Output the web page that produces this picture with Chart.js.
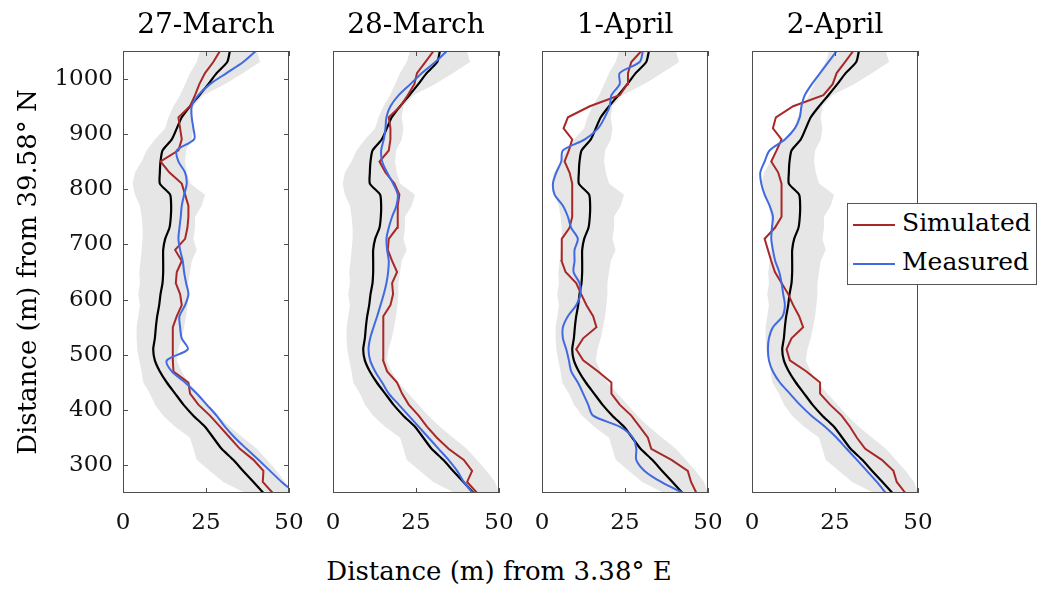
<!DOCTYPE html>
<html>
<head>
<meta charset="utf-8">
<script src="https://cdn.jsdelivr.net/npm/chart.js@4.4.1/dist/chart.umd.min.js"></script>
<style>
  body { margin: 0; background: #fff; font-family: "DejaVu Serif", serif; }
  #wrap { position: relative; width: 1040px; height: 592px; overflow: hidden; }
  canvas { position: absolute; top: 0; }
  #xlabel { position: absolute; left: 0; top: 556px; width: 998px; text-align: center;
            font-size: 26px; line-height: 30px; color: #000; }
  #legend { position: absolute; left: 847px; top: 203px; width: 188px; height: 80px;
            border: 1px solid #555; background: #fff; }
  #legend .sw { position: absolute; left: 5px; width: 42px; height: 2px; }
  #legend .txt { position: absolute; left: 54px; font-size: 25px; line-height: 30px; color: #000; }
</style>
</head>
<body>
<div id="wrap">
  <canvas id="p1" width="310" height="540" style="left:0px"></canvas>
  <canvas id="p2" width="206" height="540" style="left:313px"></canvas>
  <canvas id="p3" width="206" height="540" style="left:522px"></canvas>
  <canvas id="p4" width="206" height="540" style="left:732px"></canvas>
  <div id="xlabel">Distance (m) from 3.38° E</div>
  <div id="legend">
    <div class="sw" style="top:20px;background:#a82828"></div>
    <div class="txt" style="top:4px">Simulated</div>
    <div class="sw" style="top:59px;background:#4169e1"></div>
    <div class="txt" style="top:43px">Measured</div>
  </div>
</div>
<script>
// northing levels, listed from north (top) to south (bottom)
const northing = [1050, 1030, 1010, 990, 970, 950, 930, 910, 890, 870,
                  850, 830, 810, 790, 770, 750, 730, 710, 690, 670,
                  650, 630, 610, 590, 570, 550, 530, 510, 490, 470,
                  450, 430, 410, 390, 370, 350, 330, 310, 290, 270, 250];

const panelTitles = ['27-March', '28-March', '1-April', '2-April'];
const xTicks = [0, 25, 50];
const yTicks = [300, 400, 500, 600, 700, 800, 900, 1000];

// ensemble (black line) and spread (grey band), same in every panel
const meanX = [32.2, 31.4, 28.2, 25.7, 23.0, 20.2, 17.7, 16.2, 14.7, 11.9,
               11.3, 11.1, 11.1, 14.2, 14.5, 14.4, 14.0, 12.7, 12.1, 12.1,
               12.1, 11.9, 11.3, 10.9, 10.3, 9.9, 9.6, 9.1, 9.6, 11.1,
               13.2, 15.7, 18.2, 21.2, 24.7, 27.2, 29.7, 33.2, 36.2, 39.3, 42.3];
const bandLo = [23.2, 22.2, 20.2, 18.7, 17.2, 15.2, 13.7, 12.7, 9.6, 7.1,
                5.6, 3.6, 2.9, 3.6, 5.1, 5.6, 5.9, 5.9, 5.6, 5.3,
                4.9, 5.1, 4.6, 5.1, 4.6, 4.1, 4.1, 4.3, 4.9, 5.6,
                6.1, 8.1, 9.6, 12.1, 15.7, 20.2, 21.2, 22.2, 26.2, 30.2, 36.7];
const bandHi = [40.3, 41.3, 36.2, 30.7, 24.2, 21.2, 20.7, 21.2, 20.7, 19.0,
                18.7, 19.2, 20.2, 24.7, 23.7, 21.7, 21.7, 21.2, 22.2, 20.7,
                20.2, 19.7, 19.7, 19.4, 19.0, 18.4, 17.7, 16.7, 16.2, 17.7,
                19.7, 22.7, 25.7, 28.7, 32.2, 36.2, 40.3, 43.3, 46.3, 48.8, 50];

const simulated = [
  [29.2, 27.2, 24.7, 23.0, 21.7, 20.2, 16.7, 17.2, 17.7, 16.7,
   11.3, 14.0, 17.7, 18.7, 19.7, 19.7, 19.4, 18.7, 15.7, 17.7,
   16.2, 15.9, 17.2, 17.7, 16.2, 15.0, 15.0, 15.0, 15.0, 15.2,
   19.7, 20.2, 22.7, 26.2, 29.2, 32.2, 35.2, 39.3, 42.3, 42.1, 45.1],
  [30.3, 27.8, 25.3, 24.5, 22.5, 20.3, 16.8, 17.3, 17.3, 16.8,
   14.0, 15.8, 18.5, 20.0, 19.5, 19.5, 19.3, 16.8, 16.5, 17.8,
   19.3, 17.8, 18.1, 17.3, 15.3, 15.1, 15.1, 15.1, 15.1, 16.3,
   19.3, 20.8, 22.8, 25.8, 28.3, 31.3, 34.8, 39.4, 41.9, 40.4, 43.4],
  [29.9, 26.9, 25.9, 25.7, 23.4, 14.4, 7.8, 6.5, 9.1, 8.1,
   6.8, 8.3, 9.1, 9.1, 9.1, 9.1, 8.3, 6.0, 5.9, 5.9,
   7.1, 10.3, 11.8, 13.4, 15.4, 16.4, 12.4, 10.3, 12.4, 16.9,
   20.9, 20.9, 23.4, 26.9, 29.4, 31.9, 32.9, 39.0, 43.9, 44.9, 46.5],
  [30.5, 28.0, 25.5, 24.3, 21.5, 12.4, 7.2, 6.3, 8.9, 7.4,
   5.8, 7.9, 8.9, 8.9, 8.9, 8.9, 6.9, 3.8, 4.8, 5.8,
   6.9, 8.9, 10.9, 12.4, 14.2, 15.4, 11.9, 10.4, 11.4, 16.4,
   20.5, 20.5, 23.5, 27.0, 29.5, 31.6, 34.1, 39.1, 42.6, 43.6, 46.2]
];

const measured = [
  [40.0, 36.2, 31.2, 26.2, 22.7, 20.7, 20.7, 21.2, 21.4, 16.2,
   16.7, 18.7, 19.2, 18.4, 17.7, 17.4, 17.0, 16.7, 17.2, 18.0,
   18.4, 19.0, 19.7, 18.7, 17.0, 17.2, 17.7, 19.5, 13.2, 14.7,
   18.7, 22.2, 25.2, 28.2, 30.7, 33.7, 37.2, 40.8, 44.3, 47.8, 52],
  [34.3, 30.8, 26.8, 23.3, 19.8, 17.3, 16.1, 15.8, 15.3, 14.5,
   14.8, 16.3, 18.1, 19.5, 19.1, 17.8, 16.8, 16.1, 16.3, 16.8,
   16.6, 16.1, 15.3, 14.3, 13.3, 12.2, 11.2, 10.7, 11.2, 12.7,
   14.8, 16.8, 19.8, 22.8, 25.8, 28.8, 31.8, 34.8, 37.4, 39.4, 42.1],
  [30.4, 29.4, 23.4, 23.4, 20.9, 20.4, 18.9, 16.9, 12.9, 6.3,
   5.8, 4.3, 3.3, 3.8, 6.3, 7.8, 8.8, 10.8, 9.8, 9.8,
   9.5, 11.3, 11.6, 10.3, 7.8, 6.3, 6.3, 7.3, 8.1, 8.8,
   10.8, 12.4, 13.9, 15.4, 23.4, 27.4, 28.4, 28.4, 30.9, 35.9, 42.5],
  [25.5, 23.0, 20.5, 18.0, 15.9, 14.9, 14.4, 12.9, 9.9, 5.3,
   3.8, 2.5, 2.8, 3.8, 5.3, 6.3, 6.0, 5.8, 6.3, 7.0,
   8.2, 8.9, 9.4, 9.9, 9.2, 6.3, 5.1, 4.8, 5.1, 6.3,
   8.4, 11.4, 14.4, 17.9, 22.0, 25.5, 28.5, 31.6, 34.6, 37.6, 40.3]
];

const red = '#a82828';
const blue = '#4169e1';
const serif = 'DejaVu Serif';

// box around each axes plus the small inward ticks
const frame = {
  id: 'frame',
  afterDatasetsDraw(chart) {
    const { ctx, chartArea: a, scales } = chart;
    ctx.save();
    ctx.strokeStyle = '#4d4d4d';
    ctx.lineWidth = 1;
    ctx.strokeRect(a.left + 0.5, a.top + 0.5, a.right - a.left - 1, a.bottom - a.top - 1);
    ctx.beginPath();
    xTicks.forEach(v => {
      const px = Math.round(scales.x.getPixelForValue(v)) + 0.5;
      ctx.moveTo(px, a.bottom); ctx.lineTo(px, a.bottom - 5);
      ctx.moveTo(px, a.top); ctx.lineTo(px, a.top + 5);
    });
    if (scales.y.options.display) {
      yTicks.forEach(v => {
        const py = Math.round(scales.y.getPixelForValue(v)) + 0.5;
        ctx.moveTo(a.left, py); ctx.lineTo(a.left + 5, py);
        ctx.moveTo(a.right, py); ctx.lineTo(a.right - 5, py);
      });
    }
    ctx.stroke();
    ctx.restore();
  }
};

function points(xs) {
  return northing.map((y, i) => ({ x: xs[i], y: y })).reverse();
}

function makePanel(id, idx) {
  const first = idx === 0;
  const ctx = document.getElementById(id).getContext('2d');
  const line = (label, xs, color, width, tension) => ({
    label: label, data: points(xs), borderColor: color, borderWidth: width,
    pointRadius: 0, tension: tension || 0, fill: false, clip: 0
  });
  const hi = line('spread max', bandHi, 'rgba(0,0,0,0)', 0);
  hi.fill = 4;
  hi.backgroundColor = '#e6e6e6';

  return new Chart(ctx, {
    type: 'line',
    data: {
      datasets: [
        line('Measured', measured[idx], blue, 2, 0.3),
        line('Simulated', simulated[idx], red, 2),
        line('Mean', meanX, '#000', 2.2, 0.2),
        hi,
        line('spread min', bandLo, 'rgba(0,0,0,0)', 0)
      ]
    },
    options: {
      indexAxis: 'y',
      responsive: false,
      animation: false,
      devicePixelRatio: 1,
      events: [],
      layout: { padding: first ? { left: 0, right: 21, top: 0, bottom: 0 }
                                : { left: 20, right: 20, top: 0, bottom: 0 } },
      plugins: {
        legend: { display: false },
        tooltip: { enabled: false },
        title: {
          display: true, text: panelTitles[idx], fullSize: false, color: '#000',
          font: { family: serif, size: 28, weight: 'normal' },
          padding: { top: 9, bottom: 8.4 }
        }
      },
      scales: {
        x: {
          type: 'linear', min: 0, max: 50,
          grid: { display: false, drawTicks: false },
          border: { display: false },
          ticks: { color: '#111', padding: 16, font: { family: serif, size: 23 } },
          afterBuildTicks: s => { s.ticks = xTicks.map(v => ({ value: v })); },
          afterFit: s => { s.height = 47; s.paddingLeft = 0; s.paddingRight = 0; }
        },
        y: {
          type: 'linear', min: 250, max: 1050, display: first,
          grid: { display: false, drawTicks: false },
          border: { display: false },
          ticks: { color: '#111', padding: 10, font: { family: serif, size: 23 },
                   callback: v => String(v) },
          title: {
            display: first, text: 'Distance (m) from 39.58° N', color: '#000',
            font: { family: serif, size: 26, weight: 'normal' },
            padding: { top: 14, bottom: 0 }
          },
          afterBuildTicks: s => { s.ticks = yTicks.map(v => ({ value: v })); },
          afterFit: s => {
            if (first) s.width = 123;
            s.paddingTop = 0; s.paddingBottom = 0;
          }
        }
      }
    },
    plugins: [frame]
  });
}

document.addEventListener('DOMContentLoaded', function() {
  ['p1', 'p2', 'p3', 'p4'].forEach((id, i) => makePanel(id, i));
});
</script>
</body>
</html>
